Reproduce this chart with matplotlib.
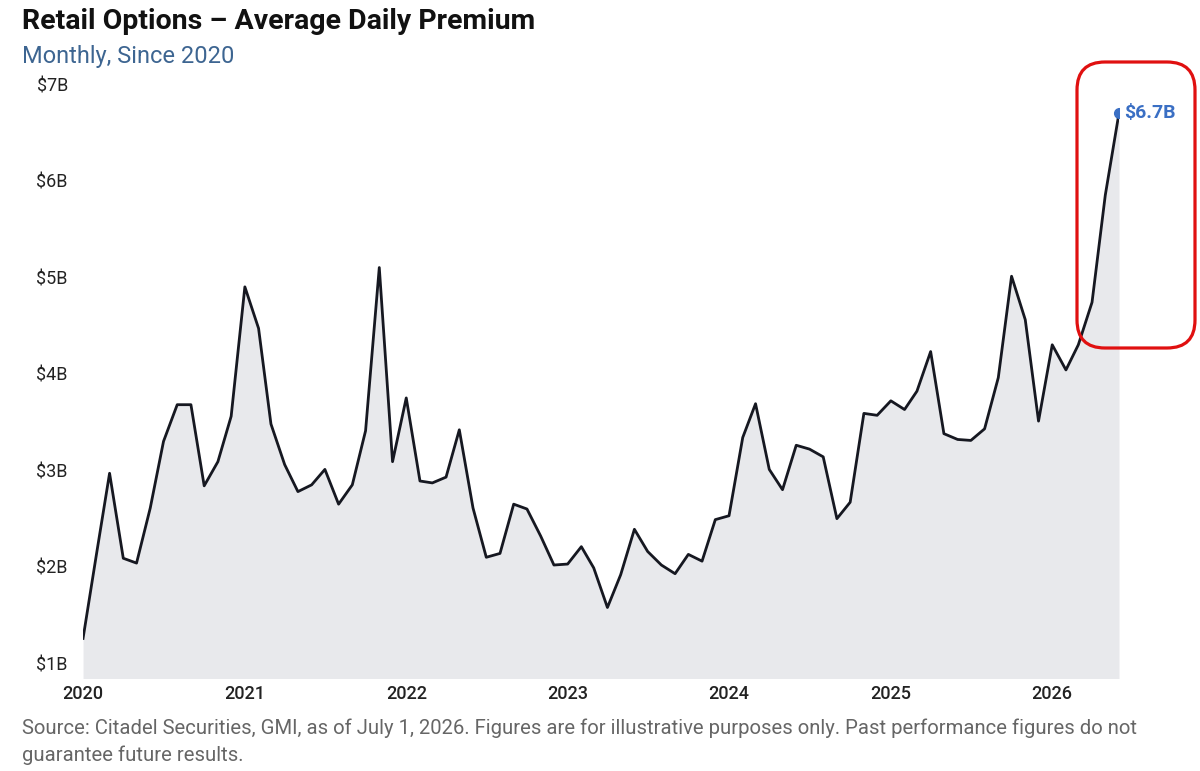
import matplotlib
matplotlib.use("Agg")
import matplotlib.pyplot as plt
import matplotlib.dates as mdates
from matplotlib.patches import FancyBboxPatch
import pandas as pd

plt.rcParams['font.family'] = ['Roboto', 'DejaVu Sans']

# monthly average daily premium, $B, Jan 2020 .. Jun 2026
start_month = '2020-01-01'
premium = [1.26, 2.15, 2.97, 2.09, 2.04, 2.61, 3.30, 3.68, 3.68, 2.84, 3.09, 3.56,
           4.90, 4.47, 3.48, 3.06, 2.78, 2.85, 3.01, 2.65, 2.85, 3.41, 5.10, 3.09,
           3.75, 2.89, 2.87, 2.93, 3.42, 2.61, 2.10, 2.14, 2.65, 2.60, 2.32, 2.02,
           2.03, 2.21, 1.99, 1.58, 1.92, 2.39, 2.16, 2.02, 1.93, 2.13, 2.06, 2.49,
           2.53, 3.34, 3.69, 3.01, 2.80, 3.26, 3.22, 3.14, 2.50, 2.67, 3.59, 3.57,
           3.72, 3.63, 3.82, 4.23, 3.38, 3.32, 3.31, 3.43, 3.96, 5.01, 4.56, 3.51,
           4.30, 4.04, 4.30, 4.74, 5.85, 6.70]
y_ticks = [1, 2, 3, 4, 5, 6, 7]
y_labels = ['$1B', '$2B', '$3B', '$4B', '$5B', '$6B', '$7B']
last_label = '$6.7B'

months = pd.date_range(start_month, periods=len(premium), freq='MS')

fig = plt.figure(figsize=(12, 7.71), dpi=100)
ax = fig.add_axes([0.0692, 0.1206, 0.8633, 0.7704])

ax.fill_between(months, premium, 0, color='#e8e9ec', linewidth=0)
ax.plot(months, premium, color='#161821', linewidth=2)
ax.plot(months[-1], premium[-1], 'o', color='#3a6fc4', markersize=7, zorder=5)
ax.annotate(last_label, (months[-1], premium[-1]), xytext=(4, 0),
            textcoords='offset points', va='center', ha='left',
            color='#3a6fc4', fontsize=14, fontweight='bold')

ax.set_xlim(months[0], months[-1])
ax.set_ylim(0.85, 7.0)
ax.set_yticks(y_ticks)
ax.set_yticklabels(y_labels)
ax.xaxis.set_major_locator(mdates.YearLocator())
ax.xaxis.set_major_formatter(mdates.DateFormatter('%Y'))
ax.tick_params(axis='y', length=0, pad=11, labelsize=13, labelcolor='#222222')
ax.tick_params(axis='x', length=0, pad=5, labelsize=13, labelcolor='#222222')
for lbl in ax.get_xticklabels():
    lbl.set_fontweight('medium')
for s in ax.spines.values():
    s.set_visible(False)

fig.text(0.018, 0.972, 'Retail Options \u2013 Average Daily Premium', fontsize=20.5,
         fontweight='bold', color='#111111', va='center')
fig.text(0.018, 0.927, 'Monthly, Since 2020', fontsize=17, color='#3d6591', va='center')
fig.text(0.018, 0.038, 'Source: Citadel Securities, GMI, as of July 1, 2026. Figures are for '
         'illustrative purposes only. Past performance figures do not\nguarantee future results.',
         fontsize=14.6, color='#666666', va='center', linespacing=1.45)

# red highlight box around the latest run-up
box = FancyBboxPatch((10.77, 4.23), 1.18, 2.86, boxstyle='round,pad=0,rounding_size=0.28',
                     transform=fig.dpi_scale_trans, fill=False, edgecolor='#e01010',
                     linewidth=2.3)
fig.add_artist(box)

fig.savefig('out.png', dpi=100)
